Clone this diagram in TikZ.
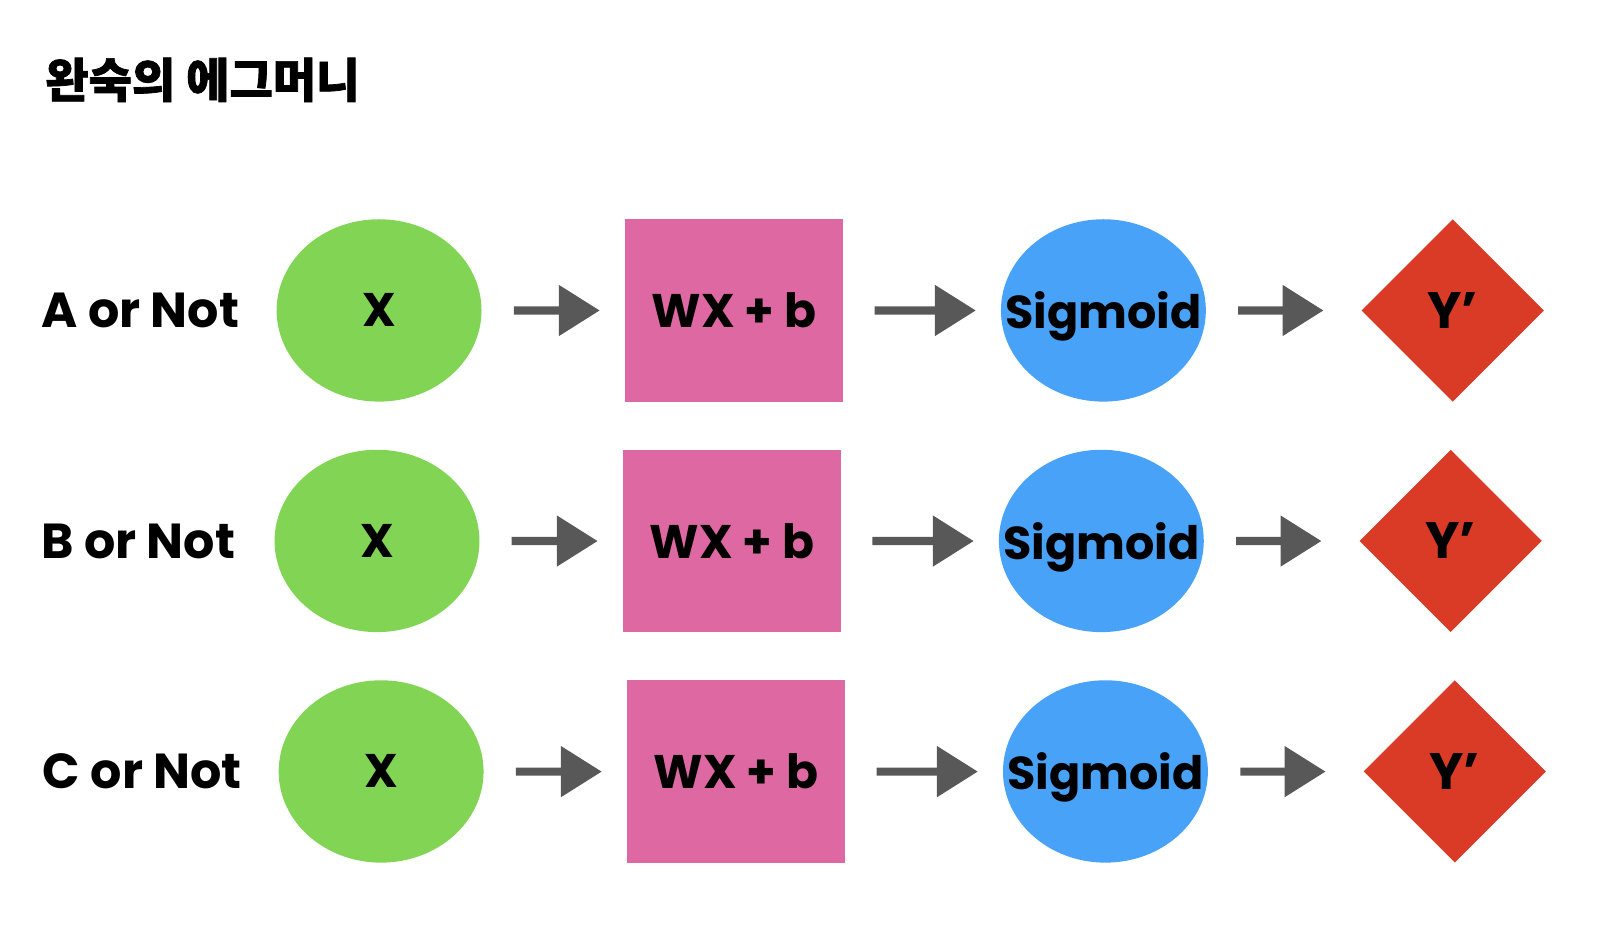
\documentclass[tikz,border=0pt]{standalone}
\usepackage{fontspec}
\setmainfont{Poppins}
\newfontfamily\cjk{Noto Sans CJK KR}[BoldFeatures={FakeBold=1.5}]
\usetikzlibrary{shapes.geometric,arrows.meta}
\definecolor{cgreen}{HTML}{82D455}
\definecolor{cpink}{HTML}{DE68A2}
\definecolor{cblue}{HTML}{47A2F8}
\definecolor{cred}{HTML}{DA3B27}
\definecolor{carrow}{HTML}{585858}
\tikzset{
  lbl/.style={font=\fontsize{48}{52}\selectfont\bfseries, inner sep=0},
  inode/.style={ellipse, fill=cgreen, minimum width=200pt, minimum height=178pt, inner sep=0, font=\fontsize{46}{50}\selectfont\bfseries},
  wnode/.style={rectangle, fill=cpink, minimum width=213pt, minimum height=178pt, inner sep=0, font=\fontsize{46}{50}\selectfont\bfseries},
  snode/.style={ellipse, fill=cblue, minimum width=200pt, minimum height=178pt, inner sep=0, text depth=0pt, font=\fontsize{45}{49}\selectfont\bfseries},
  ynode/.style={diamond, fill=cred, minimum width=178pt, minimum height=178pt, inner sep=0, font=\fontsize{50}{54}\selectfont\bfseries},
  flow/.style={draw=carrow, line width=8.2pt, -{Triangle[length=41pt,width=49pt]}},
}
\begin{document}
\begin{tikzpicture}[x=1pt,y=-1pt,scale=1.0245,transform shape]
\useasboundingbox (0,0) rectangle (1567.6,917.5);
\node[anchor=west, inner sep=0, font=\cjk\bfseries\fontsize{46}{50}\selectfont] (title) at (44,78) {완숙의 에그머니};
\foreach \r/\L/\dx/\dy in {1/A/0/0, 2/B/-2/225, 3/C/2/450}{
  \node[lbl] (l\r) at ({137+\dx},{303+\dy}) {\L{} or Not};
  \node[inode] (x\r) at ({370+\dx},{303+\dy}) {X};
  \node[wnode] (w\r) at ({716.5+\dx},{303+\dy}) {WX + b};
  \node[snode] (s\r) at ({1077+\dx},{303+\dy}) {\makebox[0pt]{Sigmoid}};
  \node[ynode] (y\r) at ({1418+\dx},{303+\dy}) {Y’};
  \draw[flow, shorten <=32pt, shorten >=25pt] (x\r) -- (w\r);
  \draw[flow, shorten <=31pt, shorten >=25pt] (w\r) -- (s\r);
  \draw[flow, shorten <=32pt, shorten >=38pt] (s\r) -- (y\r);
}
\end{tikzpicture}
\end{document}
